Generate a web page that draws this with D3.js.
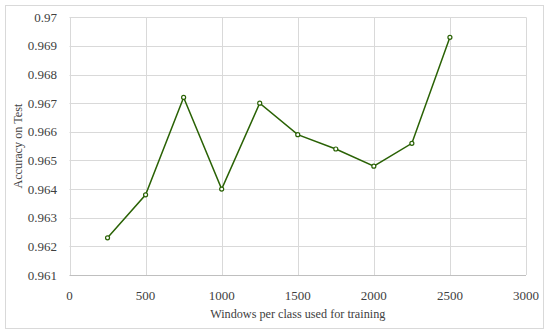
<!DOCTYPE html>
<html>
<head>
<meta charset="utf-8">
<script src="https://cdn.jsdelivr.net/npm/d3@7"></script>
<style>
  body { margin: 0; background: #fff; }
  text { font-family: "Liberation Serif", "DejaVu Serif", serif; fill: #404040; }
</style>
</head>
<body>
<div id="chart"></div>
<script>
const windows = [250, 500, 750, 1000, 1250, 1500, 1750, 2000, 2250, 2500];
const accuracy = [0.9623, 0.9638, 0.9672, 0.9640, 0.9670, 0.9659, 0.9654, 0.9648, 0.9656, 0.9693];
const xTicks = [0, 500, 1000, 1500, 2000, 2500, 3000];
const yTicks = [0.961, 0.962, 0.963, 0.964, 0.965, 0.966, 0.967, 0.968, 0.969, 0.97];

const W = 550, H = 334;
const m = { left: 69.5, right: 24, top: 17.3, bottom: 59 };

const svg = d3.select("#chart").append("svg")
  .attr("width", W).attr("height", H);

// outer frame
svg.append("rect")
  .attr("x", 5.5).attr("y", 5.5)
  .attr("width", 538).attr("height", 323)
  .attr("fill", "none").attr("stroke", "#d9d9d9");

const x = d3.scaleLinear().domain([0, 3000]).range([m.left, W - m.right]);
const y = d3.scaleLinear().domain([0.961, 0.97]).range([H - m.bottom, m.top]);

// grid
svg.append("g").selectAll("line").data(yTicks).join("line")
  .attr("x1", x(0)).attr("x2", x(3000))
  .attr("y1", d => Math.round(y(d)) + 0.5).attr("y2", d => Math.round(y(d)) + 0.5)
  .attr("stroke", d => d === 0.961 ? "#bfbfbf" : "#d9d9d9");

svg.append("g").selectAll("line").data(xTicks).join("line")
  .attr("x1", d => Math.round(x(d)) + 0.5).attr("x2", d => Math.round(x(d)) + 0.5)
  .attr("y1", y(0.97)).attr("y2", y(0.961))
  .attr("stroke", "#d9d9d9");

// tick labels
svg.append("g").selectAll("text").data(yTicks).join("text")
  .attr("x", 57).attr("y", d => y(d)).attr("dy", "0.35em")
  .attr("text-anchor", "end").attr("font-size", 13)
  .text(d => d3.format(".3~f")(d));

svg.append("g").selectAll("text").data(xTicks).join("text")
  .attr("x", d => x(d)).attr("y", 295).attr("dy", "0.35em")
  .attr("text-anchor", "middle").attr("font-size", 13)
  .text(d => d);

// axis titles
svg.append("text")
  .attr("x", x(1500)).attr("y", 314).attr("dy", "0.35em")
  .attr("text-anchor", "middle").attr("font-size", 12.2)
  .text("Windows per class used for training");

svg.append("text")
  .attr("transform", `translate(18,${y(0.9655)}) rotate(-90)`)
  .attr("dy", "0.35em")
  .attr("text-anchor", "middle").attr("font-size", 12.2)
  .text("Accuracy on Test");

// series
const pts = windows.map((w, i) => ({ w, a: accuracy[i] }));
const line = d3.line().x(d => x(d.w)).y(d => y(d.a));

svg.append("path").datum(pts)
  .attr("d", line)
  .attr("fill", "none").attr("stroke", "#2a6205").attr("stroke-width", 1.5);

svg.append("g").selectAll("circle").data(pts).join("circle")
  .attr("cx", d => x(d.w)).attr("cy", d => y(d.a)).attr("r", 2)
  .attr("fill", "#fff").attr("stroke", "#2a6205").attr("stroke-width", 1.2);
</script>
</body>
</html>
